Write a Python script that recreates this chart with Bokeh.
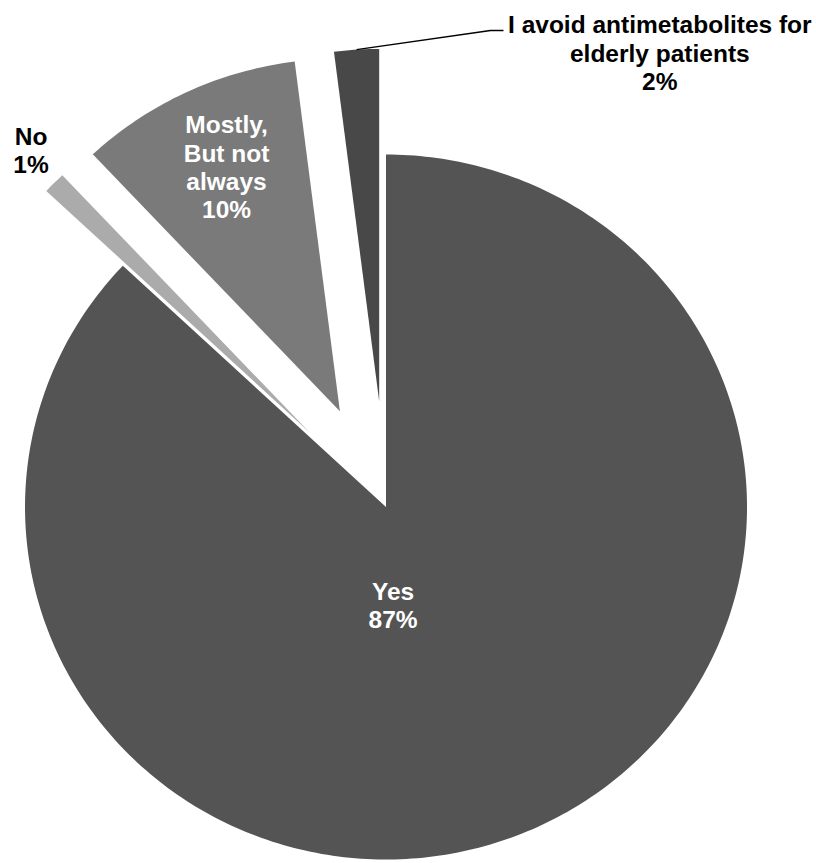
import numpy as np
from bokeh.plotting import figure
from bokeh.models import Range1d
from bokeh.core.properties import value
from bokeh.embed import file_html
from bokeh.resources import INLINE

# ---- data ----
categories = ["Yes", "No", "Mostly,\nBut not\nalways", "I avoid antimetabolites for\nelderly patients"]
percents = [87, 1, 10, 2]

# ---- style / layout ----
colors = ["#545454", "#ababab", "#7a7a7a", "#484848"]
explode = [0.0, 0.30, 0.30, 0.30]
label_colors = ["white", "black", "white", "black"]
# label placement relative to each slice's (exploded) centre: (radius, angle deg clockwise from top)
label_polar = [(0.28, 176.0), (1.11, -44.0), (0.76, -24.4), (1.257, 38.2)]
FONT = "Liberation Sans"
FS = "24.5px"

W, H = 816, 863
p = figure(width=W, height=H, output_backend="svg", toolbar_location=None,
           x_range=Range1d(-1.0679, 1.1925), y_range=Range1d(-1.0113, 1.4369),
           min_border=0, match_aspect=False)
p.axis.visible = False
p.grid.visible = False
p.outline_line_color = None
p.background_fill_color = "white"
p.border_fill_color = "white"

total = float(sum(percents))
fracs = np.array(percents) / total
ends = np.cumsum(fracs) * 2 * np.pi
starts = ends - fracs * 2 * np.pi

xs, ys, centers = [], [], []
for i in range(len(percents)):
    mid = (starts[i] + ends[i]) / 2
    cx = np.sin(mid) * explode[i]
    cy = np.cos(mid) * explode[i]
    centers.append((cx, cy, mid))
    t = np.linspace(starts[i], ends[i], max(8, int(400 * fracs[i]) + 2))
    xs.append([cx] + list(cx + np.sin(t)) + [cx])
    ys.append([cy] + list(cy + np.cos(t)) + [cy])

p.patches(xs, ys, fill_color=colors, line_color=None)

# leader line for the small "I avoid" slice
cx, cy, mid = centers[3]
lx = [cx + np.sin(mid) * 1.0, cx + 1.0966 * np.sin(np.radians(16.33)), cx + 1.11 * np.sin(np.radians(18.07))]
ly = [cy + np.cos(mid) * 1.0, cy + 1.0966 * np.cos(np.radians(16.33)), cy + 1.0966 * np.cos(np.radians(16.33))]
p.line(lx, ly, line_color="black", line_width=1.3)

tx, ty, tt = [], [], []
for i in range(len(percents)):
    cx, cy, mid = centers[i]
    r, a = label_polar[i]
    tx.append(cx + r * np.sin(np.radians(a)))
    ty.append(cy + r * np.cos(np.radians(a)))
    tt.append(f"{categories[i]}\n{percents[i]}%")

p.text(tx, ty, text=tt, text_color=label_colors, text_font=value(FONT),
       text_font_size=FS, text_font_style="bold", text_align="center",
       text_baseline="middle", text_line_height=1.05)

open("out.html", "w").write(file_html(p, INLINE))
